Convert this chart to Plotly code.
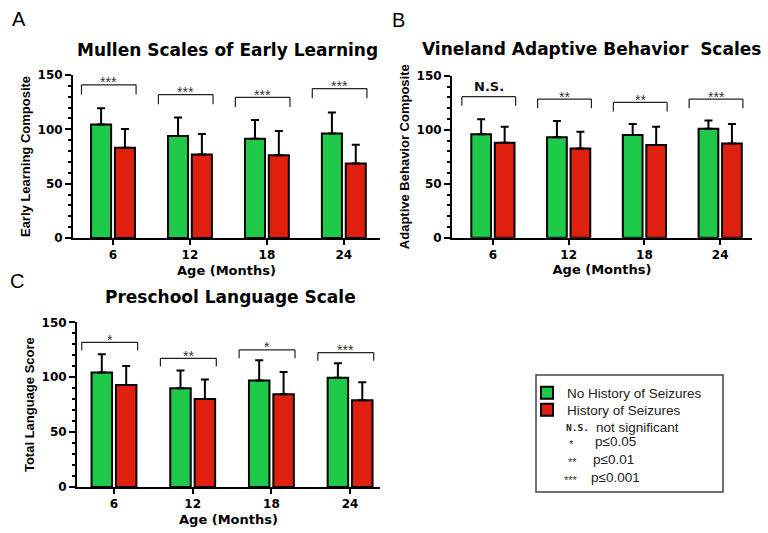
import plotly.graph_objects as go

# ---------------- data ----------------
ages = ["6", "12", "18", "24"]

mullen_no = [104.5, 93.8, 91.3, 96.2]
mullen_no_sd = [14.8, 17.2, 17.2, 19.4]
mullen_yes = [83.0, 76.9, 76.2, 68.6]
mullen_yes_sd = [17.2, 18.7, 22.2, 17.2]
mullen_sig_y = [141.0, 132.0, 129.5, 137.5]
mullen_sig = ["***", "***", "***", "***"]

vine_no = [95.7, 92.9, 95.0, 100.9]
vine_no_sd = [13.9, 15.1, 10.2, 7.7]
vine_yes = [88.0, 82.7, 85.8, 87.3]
vine_yes_sd = [14.8, 15.4, 17.0, 17.9]
vine_sig_y = [130.6, 128.4, 125.3, 128.4]
vine_sig = ["N.S.", "**", "**", "***"]

pls_no = [104.2, 89.9, 96.9, 99.6]
pls_no_sd = [16.7, 16.1, 18.5, 13.1]
pls_yes = [92.9, 80.2, 84.4, 79.0]
pls_yes_sd = [17.3, 17.8, 20.4, 16.4]
pls_sig_y = [131.8, 117.2, 124.8, 122.4]
pls_sig = ["*", "**", "*", "***"]

y_ticks = [0, 50, 100, 150]
group_names = ["No History of Seizures", "History of Seizures"]
legend_notes = [("N.S.", "not significant"), ("*", "p≤0.05"), ("**", "p≤0.01"), ("***", "p≤0.001")]

# ---------------- style ----------------
W, H = 768, 533
GREEN = "#1fc94a"
RED = "#e0200f"
BOLD = "DejaVu Sans"
ARIAL = "Liberation Sans, Arial"


def px(x):
    return x / W


def py(y):
    return 1 - y / H


panels = [
    dict(ax="", no=mullen_no, no_sd=mullen_no_sd, yes=mullen_yes, yes_sd=mullen_yes_sd,
         sig_y=mullen_sig_y, sig=mullen_sig, title="Mullen Scales of Early Learning",
         ytitle="Early Learning Composite",
         xdom=[px(73), px(380)], ydom=[py(238), py(75)], xr=[-0.52, 3.47], leg=9,
         tpos=(227, 50), letter="A", lpos=(19, 19)),
    dict(ax="2", no=vine_no, no_sd=vine_no_sd, yes=vine_yes, yes_sd=vine_yes_sd,
         sig_y=vine_sig_y, sig=vine_sig, title="Vineland Adaptive Behavior  Scales",
         ytitle="Adaptive Behavior Composite",
         xdom=[px(452), px(752)], ydom=[py(237.7), py(75.7)], xr=[-0.54, 3.42], leg=8.5,
         tpos=(591, 49), letter="B", lpos=(398, 20)),
    dict(ax="3", no=pls_no, no_sd=pls_no_sd, yes=pls_yes, yes_sd=pls_yes_sd,
         sig_y=pls_sig_y, sig=pls_sig, title="Preschool Language Scale",
         ytitle="Total Language Score",
         xdom=[px(77), px(380)], ydom=[py(487), py(322.3)], xr=[-0.47, 3.38], leg=7.5,
         tpos=(230, 297), letter="C", lpos=(17, 281)),
]

fig = go.Figure()
shapes = []
annotations = []
layout_axes = {}

for k, p in enumerate(panels):
    xa = "x" + p["ax"]
    ya = "y" + p["ax"]
    for j, (vals, sds, color, name) in enumerate([(p["no"], p["no_sd"], GREEN, group_names[0]),
                                                  (p["yes"], p["yes_sd"], RED, group_names[1])]):
        fig.add_trace(go.Bar(
            x=ages, y=vals, name=name, xaxis=xa, yaxis=ya,
            marker=dict(color=color, line=dict(color="black", width=2)),
            error_y=dict(type="data", array=sds, arrayminus=[0] * len(sds), symmetric=False,
                         color="black", thickness=2, width=4),
            showlegend=(k == 0), legendgroup=name, cliponaxis=False,
            legend="legend" if j == 0 else "legend2",
        ))

    layout_axes["xaxis" + p["ax"]] = dict(
        domain=p["xdom"], anchor=ya, type="category", range=p["xr"], automargin=False,
        showline=True, linecolor="black", linewidth=2, showgrid=False, zeroline=False,
        ticks="outside", ticklen=5, tickwidth=2, tickcolor="black",
        tickfont=dict(family=BOLD, size=12, color="black", weight="bold"),
        title=dict(text="Age (Months)", standoff=4,
                   font=dict(family=BOLD, size=13, color="black", weight="bold")),
    )
    layout_axes["yaxis" + p["ax"]] = dict(
        domain=p["ydom"], anchor=xa, range=[0, 150], tickvals=y_ticks, automargin=False,
        showline=True, linecolor="black", linewidth=2, showgrid=False, zeroline=False,
        ticks="outside", ticklen=6, tickwidth=2, tickcolor="black",
        minor=dict(dtick=10, ticks="outside", ticklen=3, tickwidth=1.5, tickcolor="black"),
        tickfont=dict(family=BOLD, size=12, color="black", weight="bold"),
        title=dict(text=p["ytitle"], standoff=4,
                   font=dict(family=ARIAL, size=13, color="black", weight="bold")),
    )

    # significance brackets
    for i, (yv, lab) in enumerate(zip(p["sig_y"], p["sig"])):
        x0, x1 = i - 0.41, i + 0.30
        for (a, b, c, d) in [(x0, yv - p["leg"], x0, yv), (x0, yv, x1, yv), (x1, yv, x1, yv - p["leg"])]:
            shapes.append(dict(type="line", xref=xa, yref=ya, x0=a, y0=b, x1=c, y1=d,
                               line=dict(color="#222", width=1.2), layer="above"))
        if lab == "N.S.":
            annotations.append(dict(x=(x0 + x1) / 2, y=yv, xref=xa, yref=ya, text=lab,
                                    showarrow=False, yanchor="bottom", yshift=1,
                                    font=dict(family=BOLD, size=13, color="#111", weight="bold")))
        else:
            annotations.append(dict(x=(x0 + x1) / 2, y=yv, xref=xa, yref=ya, text=lab,
                                    showarrow=False, yanchor="bottom", yshift=-7.5,
                                    font=dict(family=ARIAL, size=14, color="#333")))

    # panel title and letter
    annotations.append(dict(x=px(p["tpos"][0]), y=py(p["tpos"][1]), xref="paper", yref="paper",
                            text=p["title"], showarrow=False, xanchor="center", yanchor="middle",
                            font=dict(family=BOLD, size=17, color="black", weight="bold")))
    annotations.append(dict(x=px(p["lpos"][0]), y=py(p["lpos"][1]), xref="paper", yref="paper",
                            text=p["letter"], showarrow=False, xanchor="center", yanchor="middle",
                            font=dict(family=ARIAL, size=20, color="black")))

# legend box
shapes.append(dict(type="rect", xref="paper", yref="paper", x0=px(536), x1=px(723),
                   y0=py(492), y1=py(375), line=dict(color="#444", width=1.5)))

note_rows = [(565, 594, 427), (571, 593, 441), (572, 591, 459), (571, 589, 477)]
for (sym, txt), (xs, xt, yy) in zip(legend_notes, note_rows):
    if sym == "N.S.":
        annotations.append(dict(x=px(xs - 1), y=py(yy), xref="paper", yref="paper", text=sym,
                                showarrow=False, xanchor="left", yanchor="middle",
                                font=dict(family="DejaVu Sans Mono", size=9.5, color="#222", weight="bold")))
    else:
        annotations.append(dict(x=px(xs), y=py(yy), xref="paper", yref="paper", text=sym,
                                showarrow=False, xanchor="center", yanchor="middle", yshift=-3,
                                font=dict(family=ARIAL, size=11, color="#333")))
    annotations.append(dict(x=px(xt), y=py(yy), xref="paper", yref="paper", text=txt,
                            showarrow=False, xanchor="left", yanchor="middle",
                            font=dict(family=ARIAL, size=13.5, color="#222")))

leg_common = dict(xanchor="left", yanchor="middle", bgcolor="rgba(0,0,0,0)", borderwidth=0,
                  font=dict(family=ARIAL, size=13.5, color="#222"),
                  itemclick=False, itemdoubleclick=False)

fig.update_layout(
    width=W, height=H, margin=dict(l=0, r=0, t=0, b=0, autoexpand=False),
    paper_bgcolor="white", plot_bgcolor="white",
    barmode="group", bargap=0.38, bargroupgap=0.16,
    shapes=shapes, annotations=annotations,
    legend=dict(x=px(527), y=py(393), **leg_common),
    legend2=dict(x=px(527), y=py(410), **leg_common),
    **layout_axes,
)

fig.write_html("out.html", config={"displayModeBar": False},
               post_script="document.body.style.margin='0';document.body.style.overflow='hidden';")
